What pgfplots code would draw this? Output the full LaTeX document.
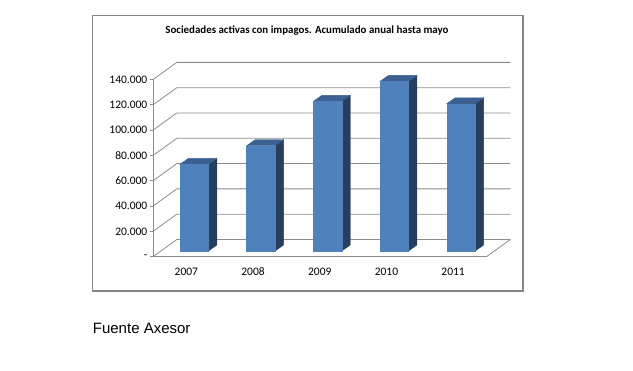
\documentclass[border=0pt]{standalone}
\usepackage{fontspec}
\setmainfont{Carlito}
\newfontfamily\arialfont{Liberation Sans}
\usepackage{pgfplots}
\usepackage{pgfplotstable}
\pgfplotsset{compat=1.18}
\definecolor{barfront}{RGB}{79,129,189}
\definecolor{bartop}{RGB}{60,96,146}
\definecolor{barside}{RGB}{40,62,95}
\definecolor{gridc}{RGB}{140,140,140}
\definecolor{framec}{RGB}{134,134,134}

% values in thousands
\pgfplotstableread{
x v
0 68.5
1 83.2
2 118.3
3 134.1
4 116.4
}\bardata

% 3D column drawn from the data point (top centre of the category) downwards
\pgfdeclareplotmark{bar3d}{%
  \pgfmathsetmacro\bh{\barv*1.265}%
  \fill[barside] (22pt,5.7pt-\bh pt) -- (22pt,5.7pt) -- (30.5pt,11.7pt) -- (30.5pt,11.7pt-\bh pt) -- cycle;
  \fill[bartop] (-6.4pt,5.7pt) -- (22pt,5.7pt) -- (30.5pt,11.7pt) -- (2.1pt,11.7pt) -- cycle;
  \fill[barfront] (-6.4pt,5.7pt-\bh pt) rectangle (22pt,5.7pt);
}

\begin{document}
\begin{tikzpicture}
\useasboundingbox (0,0) rectangle (633pt,-371pt);
\draw[framec, line width=1.3pt] (92.5pt,-15.5pt) rectangle (523pt,-291pt);
\node[anchor=base, inner sep=0pt] at (307pt,-33.5pt) {\fontsize{10.9}{13}\selectfont\bfseries Sociedades activas con impagos. Acumulado anual hasta mayo};
\node[anchor=base west, inner sep=0pt] at (92.7pt,-333.3pt) {\arialfont\fontsize{15}{18}\selectfont Fuente Axesor};
\begin{axis}[
  at={(153pt,-256.7pt)}, anchor=south west,
  x=66.7pt, y=1.265pt,
  xmin=-0.5, xmax=4.5, ymin=0, ymax=140,
  clip=false,
  axis x line*=bottom, axis y line*=left,
  axis line style={gridc, line width=0.8pt, -},
  xtick={0,1,2,3,4},
  xticklabels={2007,2008,2009,2010,2011},
  minor xtick={-0.5,0.5,1.5,2.5,3.5,4.5},
  xtick style={draw=none},
  minor tick style={gridc, line width=0.8pt},
  minor tick length=4pt,
  ytick={0,20,40,60,80,100,120,140},
  yticklabels={-,20.000,40.000,60.000,80.000,100.000,120.000,140.000},
  ytick style={gridc, line width=0.8pt},
  major tick length=3.5pt,
  tick align=outside,
  tick label style={font=\fontsize{11.5}{13}\selectfont},
  yticklabel style={anchor=east, inner sep=0pt, xshift=-2pt},
  xticklabel style={anchor=base, inner sep=0pt, yshift=-15pt},
]
\pgfplotsinvokeforeach{0,20,40,60,80,100,120,140}{
  \draw[gridc, line width=0.8pt] (axis cs:-0.5,#1) -- ([shift={(23.8pt,17.2pt)}]axis cs:-0.5,#1) -- ([shift={(23.8pt,17.2pt)}]axis cs:4.5,#1);
}
\draw[gridc, line width=0.8pt] (axis cs:4.5,0) -- ([shift={(23.8pt,17.2pt)}]axis cs:4.5,0);
\addplot[scatter, only marks, mark=bar3d,
  scatter/use mapped color={draw=none,fill=none},
  visualization depends on={\thisrow{v} \as \barv}]
  table[x=x, y=v] {\bardata};
\end{axis}
\end{tikzpicture}
\end{document}
